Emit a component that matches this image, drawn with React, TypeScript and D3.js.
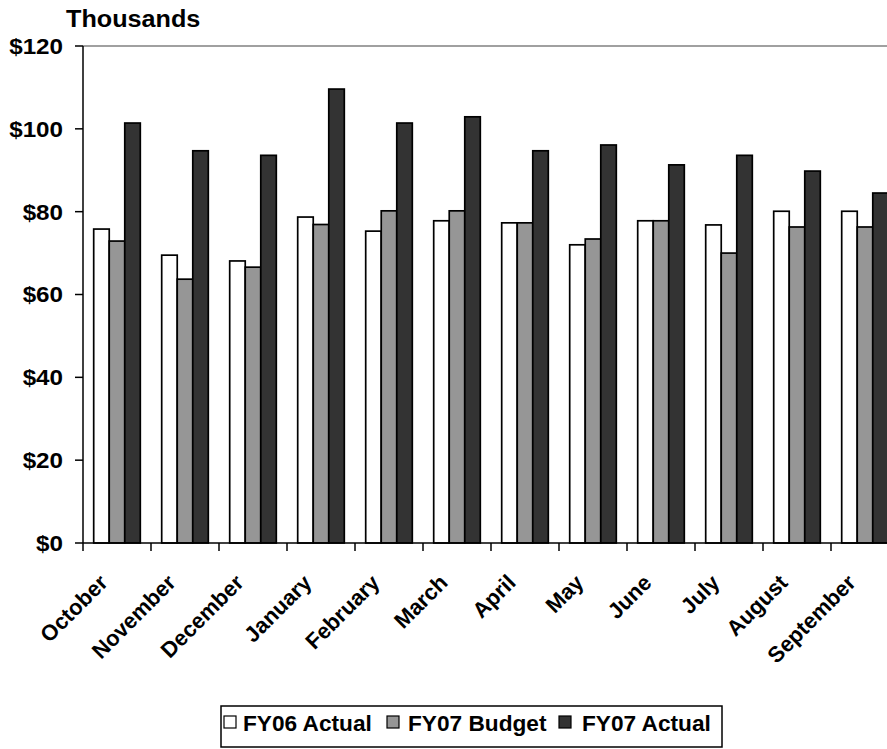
import React from "react";
import * as d3 from "d3";

const months = ["October", "November", "December", "January", "February", "March", "April", "May", "June", "July", "August", "September"];
const seriesNames = ["FY06 Actual", "FY07 Budget", "FY07 Actual"];
const fy06Actual = [75.8, 69.5, 68.1, 78.7, 75.3, 77.8, 77.3, 72.0, 77.8, 76.8, 80.1, 80.1];
const fy07Budget = [72.9, 63.7, 66.6, 76.9, 80.2, 80.2, 77.3, 73.4, 77.8, 70.0, 76.3, 76.3];
const fy07Actual = [101.4, 94.7, 93.6, 109.6, 101.4, 102.9, 94.7, 96.1, 91.3, 93.6, 89.8, 84.5];
const yTicks = [0, 20, 40, 60, 80, 100, 120];
const colors = ["#ffffff", "#969696", "#333333"];

const W = 887;
const H = 749;
const left = 83;
const top = 46;
const bottom = 543;
const bandW = 68;
const font = "'Liberation Sans', Arial, Helvetica, sans-serif";

export default function App() {
  const data = [fy06Actual, fy07Budget, fy07Actual];
  const x = d3.scaleBand<string>().domain(months).range([left, left + bandW * months.length]).padding(0);
  const x1 = d3.scaleBand<string>().domain(seriesNames).range([10.7, 57.3]).padding(0);
  const y = d3.scaleLinear().domain([0, 120]).range([bottom, top]);
  const fmt = (v: number) => "$" + d3.format("d")(v);

  const legendItems = [
    { sq: 224, tx: 243 },
    { sq: 387, tx: 408 },
    { sq: 559, tx: 582 },
  ];

  return (
    <svg width={W} height={H} style={{ position: "absolute", left: 0, top: 0, background: "#fff" }} fontFamily={font}>
      <rect x={0} y={0} width={W} height={H} fill="#fff" />
      <g transform="translate(66,27) scale(1.05,1)">
        <text x={0} y={0} fontSize={24} fontWeight="bold">Thousands</text>
      </g>
      <line x1={left} x2={W} y1={y(120)} y2={y(120)} stroke="#808080" strokeWidth={1.5} />
      {months.map((m, i) => (
        <g key={m}>
          {data.map((s, j) => (
            <rect
              key={j}
              x={(x(m) as number) + (x1(seriesNames[j]) as number)}
              y={y(s[i])}
              width={x1.bandwidth()}
              height={y(0) - y(s[i])}
              fill={colors[j]}
              stroke="#000"
              strokeWidth={1.7}
            />
          ))}
        </g>
      ))}
      <line x1={left} x2={left} y1={top} y2={bottom} stroke="#000" strokeWidth={1.5} />
      {yTicks.map((t) => (
        <g key={t}>
          <line x1={left - 8} x2={left} y1={y(t)} y2={y(t)} stroke="#000" strokeWidth={1.5} />
          <g transform={`translate(63,${y(t)}) scale(1.1,1)`}>
            <text x={0} y={0} dy="0.36em" textAnchor="end" fontSize={22} fontWeight="bold">{fmt(t)}</text>
          </g>
        </g>
      ))}
      <line x1={left} x2={W} y1={bottom} y2={bottom} stroke="#000" strokeWidth={1.5} />
      {months.map((m) => (
        <line key={m} x1={x(m) as number} x2={x(m) as number} y1={bottom} y2={bottom + 8} stroke="#000" strokeWidth={1.5} />
      ))}
      {months.map((m) => {
        const cx = (x(m) as number) + bandW / 2 - 8;
        const cy = bottom + 41;
        return (
          <text key={m} transform={`translate(${cx},${cy}) rotate(-45)`} textAnchor="end" fontSize={22} fontWeight="bold">
            {m}
          </text>
        );
      })}
      <rect x={221} y={706} width={501} height={41} fill="#fff" stroke="#000" strokeWidth={1.5} />
      {seriesNames.map((n, j) => (
        <g key={n}>
          <rect x={legendItems[j].sq} y={716} width={12} height={12} fill={colors[j]} stroke="#000" strokeWidth={1.2} />
          <g transform={`translate(${legendItems[j].tx},731) scale(1.03,1)`}>
            <text x={0} y={0} fontSize={22} fontWeight="bold">{n}</text>
          </g>
        </g>
      ))}
    </svg>
  );
}
